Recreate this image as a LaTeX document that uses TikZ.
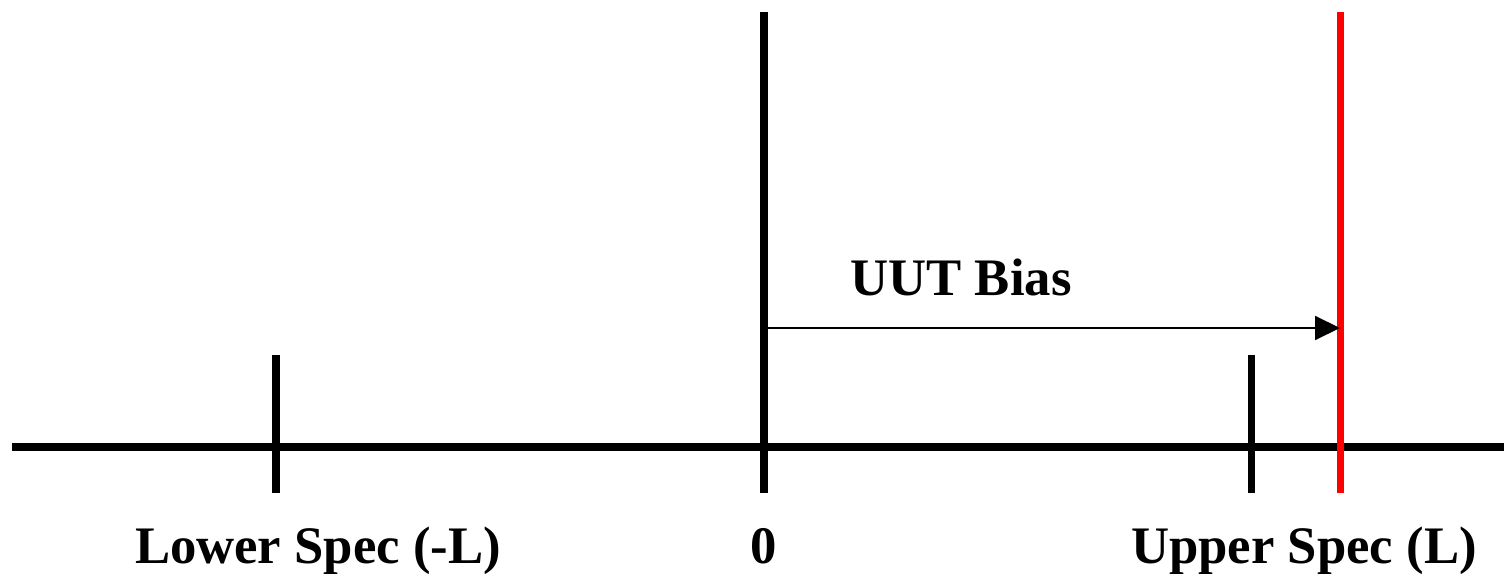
\documentclass[tikz,border=0pt]{standalone}
\usepackage{fontspec}
\setmainfont{Liberation Serif}
\usetikzlibrary{arrows.meta,positioning,calc}

\begin{document}
\begin{tikzpicture}[
  x=0.02cm, y=-0.02cm,
  axis/.style={line width=4pt, black},
  tick/.style={line width=4pt, black},
  limit/.style={line width=4pt, red},
  bias/.style={-{Triangle[length=0.5cm, width=0.48cm]}, line width=1.1pt},
  lbl/.style={font=\fontsize{30}{36}\selectfont\bfseries, inner sep=0pt, anchor=base},
]
  \useasboundingbox (0,0) rectangle (1504,574);

  % axis and ticks
  \coordinate (axl) at (12,447);
  \coordinate (axr) at (1504,447);
  \coordinate (lowtop) at (276,355);
  \coordinate (lowbot) at (276,493);
  \coordinate (zerotop) at (764,12);
  \coordinate (zerobot) at (764,493);
  \coordinate (uptop) at (1251,355);
  \coordinate (upbot) at (1251,493);
  \coordinate (redtop) at (1340,12);
  \coordinate (redbot) at (1340,493);
  \coordinate (biasl) at (764,328);
  \coordinate (biasr) at (1340,328);

  \draw[axis] (axl) -- (axr);
  \draw[tick] (lowtop) -- (lowbot);
  \draw[tick] (zerotop) -- (zerobot);
  \draw[tick] (uptop) -- (upbot);
  \draw[limit] (redtop) -- (redbot);

  % bias arrow
  \draw[bias] (biasl) -- (biasr);
  \node[lbl] (biastxt) at (961,296) {UUT Bias};

  % labels
  \node[lbl] (lowtxt) at (318,563) {Lower Spec (-L)};
  \node[lbl] (zerotxt) at (764,563) {0};
  \node[lbl] (uptxt) at (1304,563) {Upper Spec (L)};
\end{tikzpicture}
\end{document}
